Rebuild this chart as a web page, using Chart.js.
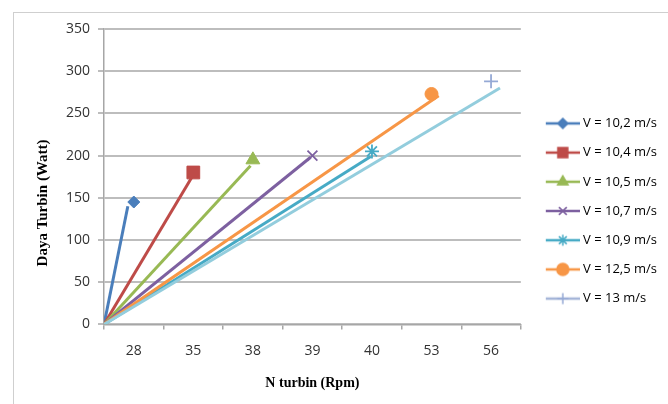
<!DOCTYPE html>
<html>
<head>
<meta charset="utf-8">
<script src="https://cdn.jsdelivr.net/npm/chart.js@4.4.1/dist/chart.umd.min.js"></script>
<style>
  html, body { margin: 0; padding: 0; background: #ffffff; }
  #wrap { position: relative; width: 668px; height: 404px; overflow: hidden; }
  #frame { position: absolute; left: 13px; top: 12px; width: 720px; height: 460px;
           border: 1.5px solid #cfcfcf; box-sizing: border-box; }
  canvas { position: absolute; left: 0; top: 0; }
</style>
</head>
<body>
<div id="wrap">
  <div id="frame"></div>
  <canvas id="chart" width="668" height="404"></canvas>
</div>
<script>
// Turbine speed categories (rpm) on the horizontal axis
const rpmLabels = ['28', '35', '38', '39', '40', '53', '56'];
// One series per wind speed
const seriesNames = ['V = 10,2 m/s', 'V = 10,4 m/s', 'V = 10,5 m/s', 'V = 10,7 m/s',
                     'V = 10,9 m/s', 'V = 12,5 m/s', 'V = 13 m/s'];
// Turbine power (W) at each series' rpm
const powerWatt = [145, 180, 195, 200, 205, 273, 288];
// End of each power line: category position and watt
const lineEndPos = [0.40, 1.48, 2.46, 3.47, 4.48, 5.62, 6.65];
const lineEndWatt = [140, 175, 188, 198, 199, 271, 280];
// Vertical axis ticks
const yTickMax = 350;
const yTickStep = 50;

const lineColors   = ['#4a7ebb', '#be4b48', '#98b954', '#7d60a0', '#46aac5', '#f79646', '#93cddd'];
const markerColors = ['#4a7ebb', '#be4b48', '#98b954', '#7d60a0', '#46aac5', '#f79646', '#95a9d5'];
const legendLineColors = ['#4a7ebb', '#be4b48', '#98b954', '#7d60a0', '#46aac5', '#f79646', '#a5b5d8'];
const markerStyles = ['rectRot', 'rect', 'triangle', 'crossRot', 'star', 'circle', 'cross'];
const markerRadius = [6, 9, 8, 7, 7, 6.5, 7];
const legendMarkerRadius = [5, 7, 6, 5.5, 5.5, 6, 5.5];

const datasets = [];
seriesNames.forEach((name, i) => {
  datasets.push({
    label: name,
    xAxisID: 'xLine',
    data: [{ x: 0, y: 0 }, { x: lineEndPos[i], y: lineEndWatt[i] }],
    borderColor: lineColors[i],
    borderWidth: 3,
    pointRadius: 0,
    pointHoverRadius: 0,
    fill: false,
    order: 20 - i
  });
});
seriesNames.forEach((name, i) => {
  const thin = ['crossRot', 'star', 'cross'].includes(markerStyles[i]);
  datasets.push({
    label: name,
    xAxisID: 'x',
    data: rpmLabels.map((_, j) => (j === i ? powerWatt[i] : null)),
    showLine: false,
    pointStyle: markerStyles[i],
    pointRadius: markerRadius[i],
    pointHoverRadius: markerRadius[i],
    pointBackgroundColor: markerColors[i],
    pointBorderColor: markerColors[i],
    pointBorderWidth: thin ? 1.8 : 1,
    order: -i
  });
});

// Legend symbol: short line with the series marker on it
function legendSymbol(i) {
  const c = document.createElement('canvas');
  c.width = 46; c.height = 16;
  const g = c.getContext('2d');
  g.strokeStyle = legendLineColors[i];
  g.lineWidth = 2.5;
  g.beginPath(); g.moveTo(12, 8); g.lineTo(46, 8); g.stroke();
  g.fillStyle = markerColors[i];
  g.strokeStyle = markerColors[i];
  g.lineWidth = 1.5;
  Chart.helpers.drawPoint(g, { pointStyle: markerStyles[i], radius: legendMarkerRadius[i], borderWidth: 1.5, rotation: 0 }, 29, 8);
  return c;
}
const legendSymbols = seriesNames.map((_, i) => legendSymbol(i));

const tickFont = { family: "'Open Sans', sans-serif", size: 14 };
const legendFont = { family: "'Open Sans', sans-serif", size: 13 };
const titleFont = { family: "'Liberation Serif', 'Times New Roman', serif", weight: 'bold' };
const nb = '\u00a0';

new Chart(document.getElementById('chart'), {
  type: 'line',
  data: { labels: rpmLabels, datasets: datasets },
  options: {
    responsive: false,
    animation: false,
    layout: { padding: { left: 18, top: 29, right: 1, bottom: 11 } },
    plugins: {
      tooltip: { enabled: false },
      legend: {
        position: 'right',
        align: 'center',
        onClick: null,
        labels: {
          usePointStyle: true,
          pointStyleWidth: 39.5,
          padding: 16.2,
          color: '#262626',
          font: legendFont,
          generateLabels: () => seriesNames.map((name, i) => ({
            text: name,
            pointStyle: legendSymbols[i],
            fillStyle: markerColors[i],
            strokeStyle: markerColors[i],
            lineWidth: 0,
            hidden: false,
            datasetIndex: i
          }))
        }
      }
    },
    scales: {
      x: {
        type: 'category',
        offset: true,
        grid: { offset: true, drawOnChartArea: false, tickLength: 5, color: '#a6a6a6', lineWidth: 1.5 },
        border: { color: '#a6a6a6', width: 1.5 },
        ticks: { padding: 13, color: '#333333', font: tickFont, maxRotation: 0 },
        title: { display: true, text: 'N turbin (Rpm)', color: '#000000',
                 font: Object.assign({ size: 14 }, titleFont), padding: { top: 3, bottom: 1 } }
      },
      xLine: {
        type: 'linear',
        display: false,
        position: 'bottom',
        min: 0,
        max: rpmLabels.length
      },
      y: {
        min: 0,
        max: yTickMax,
        ticks: { stepSize: yTickStep, padding: 8, color: '#333333', font: tickFont },
        grid: { color: '#bdbdbd', lineWidth: 2, tickLength: 6 },
        border: { color: '#a6a6a6', width: 1.5 },
        title: { display: true, text: 'Daya Turbin (Watt)' + nb.repeat(14), color: '#000000',
                 font: Object.assign({ size: 15 }, titleFont), padding: { top: 16, bottom: 6 } }
      }
    }
  }
});
</script>
</body>
</html>
